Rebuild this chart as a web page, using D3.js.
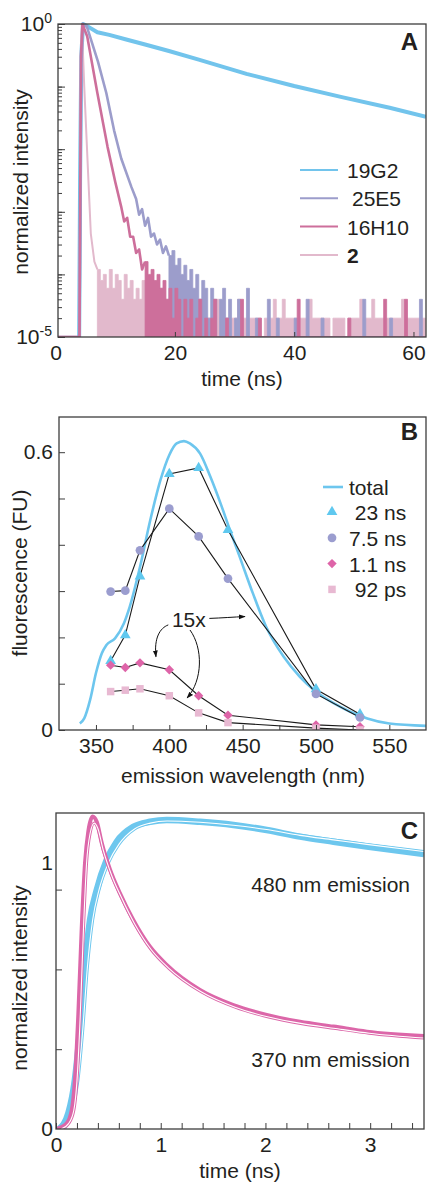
<!DOCTYPE html>
<html>
<head>
<meta charset="utf-8">
<script src="https://cdn.jsdelivr.net/npm/d3@7"></script>
<style>
  body { margin: 0; background: #fff; }
  text { font-family: "Liberation Sans", Arial, Helvetica, sans-serif; fill: #231f20; }
</style>
</head>
<body>
<svg id="chart" width="430" height="1184"></svg>
<script>
// ---------- Panel A: decays, normalized intensity (log axis) ----------
const peakCounts = 50000;   // counts at the maximum of each decay
const binNs = 0.5;          // bin width of the noisy tails

const decay19G2 = [[3.95,0],[4.1,0.003],[4.3,0.3],[4.6,1],[5.5,0.9],[7,0.74],[9,0.67],[12,0.56],[15,0.47],[19,0.37],[24,0.27],[32,0.16],[40,0.102],[48,0.068],[56,0.046],[62.1,0.033]];

const decay25E5 = [[0,0],[4.0,0],[4.3,0.2],[4.6,1],[5.2,0.93],[7.1,0.25],[8.5,0.079],[9.8,0.02],[11,0.0071],[12.7,0.0025],[13.5,0.0016],[14,0.0009],[14.5,0.0011],[15,0.0006],[15.5,0.0008],[16,0.0004],[16.5,0.00045],[17,0.0003],[17.5,0.00036],[18,0.00022],[18.5,0.00028],[19,0.0002]];
const tail25E5Start = 19;
const tail25E5 = [10,12,7,9,5,7,4,6,3,5, 2,4,3,1,3,2,0,2,3,1, 2,0,1,2,0,0,3,0,0,1, 0,0,0,2,0,0,1,0,0,0,
  0,0,1,0,0,0,2,0,0,0, 0,1,0,0,0,0,0,0,0,0, 0,0,0,0,0,2,0,0,0,0, 0,0,0,0,1,0,0,0,0,0, 0,0,0,0,2,0];

const decay16H10 = [[0,0],[4.0,0],[4.25,0.3],[4.5,1],[5.3,0.63],[7.0,0.079],[8.7,0.011],[10,0.003],[11,0.0012],[11.5,0.0007],[12,0.0008],[12.5,0.0004],[13,0.0004],[13.5,0.00022],[14,0.00025],[14.5,0.00012],[15,0.00016]];
const tail16H10Start = 15;
const tail16H10 = [8,5,6,4,5,3,4,2,3,1, 3,2,0,2,1,2,0,1,2,0, 1,0,1,2,0,0,0,1,0,0, 0,0,2,0,0,0,0,0,1,0,
  0,0,0,0,0,0,0,0,0,0, 0,2,0,0,0,0,0,0,0,0, 0,0,0,0,0,0,0,0,1,0, 0,0,0,0,0,0,0,0,0,0, 2,0,0,0,0,0,0,2,0,0, 0,0,0,0];

const decay2 = [[0,0],[4.0,0],[4.2,0.3],[4.4,1],[4.8,0.1],[5.4,0.0052],[5.9,0.00045],[6.5,0.00016],[7,0.00012]];
const tail2Start = 7;
const tail2 = [6,4,5,3,6,3,5,4,2,5, 3,4,2,3,2,4,1,3,2,1, 2,3,1,2,2,1,3,1,2,1, 1,1,0,1,2,1,1,1,1,1,
  2,1,1,1,0,1,1,2,1,1, 1,1,1,1,1,0,1,1,1,2, 1,1,2,1,1,1,1,0,1,1, 1,2,1,1,1,1,1,1,0,1,
  1,1,1,0,1,1,1,1,2,1, 1,1,2,1,1,1,0,1,1,1, 1,1,2,1,1,1,1,1,1,1];

const decadesA = [1e-5, 1e-4, 1e-3, 1e-2, 1e-1, 1];
const xTicksA = [0, 20, 40, 60];

// ---------- Panel B: decay-associated spectra ----------
const wavelengths = [360, 370, 380, 400, 420, 440, 500, 530];
const amp23ns  = [0.149, 0.205, 0.332, 0.553, 0.566, 0.432, 0.088, 0.034];
const amp7_5ns = [0.299, 0.301, 0.388, 0.478, 0.418, 0.327, 0.078, 0.027];
const amp1_1ns = [0.140, 0.135, 0.145, 0.130, 0.074, 0.032, 0.011, 0.007];   // scaled 15x
const amp92ps  = [0.083, 0.086, 0.089, 0.074, 0.037, 0.016, 0.004, 0.000];   // scaled 15x

const totalWl = [339,342,346,350,354,357,363,369,373,380,387,394,400,405,410,414,421,428,435,441,448,457,466,478,489,500,512,523,535,550,575];
const totalFU = [0.014,0.025,0.065,0.123,0.166,0.183,0.198,0.230,0.266,0.352,0.453,0.540,0.594,0.619,0.624,0.619,0.597,0.547,0.489,0.435,0.374,0.295,0.223,0.158,0.115,0.083,0.058,0.040,0.025,0.014,0.009];

const xTicksB = [350, 375, 400, 425, 450, 475, 500, 525, 550];
const yTicksB = [0, 0.1, 0.2, 0.3, 0.4, 0.5, 0.6];

// ---------- Panel C: rise/decay at two emission wavelengths ----------
const trace370 = [[0,0],[0.1,0.02],[0.15,0.07],[0.18,0.18],[0.213,0.43],[0.245,0.75],[0.277,1.0],[0.309,1.12],[0.35,1.175],[0.389,1.155],[0.437,1.075],[0.516,0.975],[0.611,0.886],[0.738,0.786],[0.898,0.685],[1.057,0.617],[1.375,0.523],[1.694,0.466],[2.012,0.429],[2.33,0.403],[2.65,0.385],[2.968,0.366],[3.514,0.35]];
const fit370 = [[0.05,0],[0.12,0.02],[0.17,0.07],[0.2,0.18],[0.232,0.43],[0.262,0.75],[0.292,1.0],[0.325,1.11],[0.365,1.15],[0.4,1.13],[0.45,1.05],[0.53,0.955],[0.625,0.87],[0.75,0.772],[0.91,0.674],[1.07,0.607],[1.39,0.515],[1.71,0.458],[2.03,0.421],[2.35,0.396],[2.67,0.378],[2.99,0.36],[3.514,0.342]];
const trace480 = [[0.03,0],[0.118,0.06],[0.18,0.184],[0.229,0.37],[0.277,0.61],[0.325,0.786],[0.389,0.898],[0.484,1.011],[0.58,1.08],[0.738,1.136],[0.898,1.155],[1.057,1.162],[1.375,1.155],[1.694,1.143],[2.012,1.124],[2.33,1.099],[2.65,1.08],[2.968,1.062],[3.514,1.034]];
const fit480 = [[0.08,0],[0.15,0.06],[0.21,0.184],[0.255,0.37],[0.3,0.61],[0.35,0.786],[0.41,0.898],[0.5,1.0],[0.6,1.07],[0.75,1.128],[0.9,1.15],[1.06,1.158],[1.375,1.153],[1.694,1.142],[2.012,1.126],[2.33,1.104],[2.65,1.087],[2.968,1.07],[3.514,1.043]];

const xTicksC = [0,0.2,0.4,0.6,0.8,1,1.2,1.4,1.6,1.8,2,2.2,2.4,2.6,2.8,3,3.2,3.4];
const yTicksC = [0.3, 0.6, 0.9];
const yLabelsC = [0, 1];

// ---------- drawing ----------
const FONT = '"Liberation Sans", Arial, Helvetica, sans-serif';
const ink = "#231f20";
const axisInk = "#3d3d3d";
const svg = d3.select("#chart");
const defs = svg.append("defs");

function frame(box) {
  svg.append("rect")
    .attr("x", box.left).attr("y", box.top)
    .attr("width", box.right - box.left).attr("height", box.bottom - box.top)
    .attr("fill", "none").attr("stroke", axisInk).attr("stroke-width", 1.3);
}
function clip(id, box) {
  defs.append("clipPath").attr("id", id).append("rect")
    .attr("x", box.left).attr("y", box.top - 3)
    .attr("width", box.right - box.left).attr("height", box.bottom - box.top + 3);
}
function tidy(g) {
  g.attr("font-family", FONT).attr("font-size", 21);
  g.select(".domain").remove();
  g.selectAll(".tick line").attr("stroke", axisInk).attr("stroke-width", 1);
  g.selectAll(".tick text").attr("fill", ink);
}
function label(x, y, txt, opts = {}) {
  const t = svg.append("text").attr("x", x).attr("y", y)
    .attr("font-size", opts.size || 21)
    .attr("text-anchor", opts.anchor || "middle")
    .text(txt);
  if (opts.bold) t.attr("font-weight", "bold");
  if (opts.rotate) t.attr("transform", `rotate(-90,${x},${y})`);
  return t;
}

// ===== Panel A =====
const boxA = {left: 58, right: 426, top: 24, bottom: 337};
const xA = d3.scaleLinear().domain([0.4, 62.1]).range([boxA.left, boxA.right]);
const yA = d3.scaleLog().domain([1e-5, 1]).range([boxA.bottom, boxA.top]).clamp(true);
clip("clipA", boxA);

const curvesA = [
  {name: "19G2",  main: decay19G2,  tailStart: 0,              tail: [],        color: "#72c4ec", width: 4},
  {name: "2",     main: decay2,     tailStart: tail2Start,     tail: tail2,     color: "#e2b9cc", width: 2},
  {name: "25E5",  main: decay25E5,  tailStart: tail25E5Start,  tail: tail25E5,  color: "#9c9dcb", width: 2.6},
  {name: "16H10", main: decay16H10, tailStart: tail16H10Start, tail: tail16H10, color: "#cd6f9b", width: 2.6}
];

const gA = svg.append("g").attr("clip-path", "url(#clipA)");
const lineA = d3.line().x(d => xA(d[0])).y(d => yA(d[1]));
const tailArea = d3.area().curve(d3.curveStepAfter)
  .x(d => xA(d[0])).y0(boxA.bottom).y1(d => yA(d[1]));

curvesA.forEach(c => {
  if (c.tail.length) {
    const pts = c.tail.map((n, i) => [c.tailStart + i * binNs, n / peakCounts]);
    pts.push([c.tailStart + c.tail.length * binNs, c.tail[c.tail.length - 1] / peakCounts]);
    gA.append("path").attr("d", tailArea(pts))
      .attr("fill", c.color).attr("stroke", c.color).attr("stroke-width", 0.8);
  }
  gA.append("path").attr("d", lineA(c.main))
    .attr("fill", "none").attr("stroke", c.color)
    .attr("stroke-width", c.width).attr("stroke-linejoin", "round");
});

svg.append("g").attr("transform", `translate(${boxA.left},0)`)
  .call(d3.axisLeft(yA).tickValues(yA.ticks()).tickSize(-4).tickFormat(""))
  .call(tidy);
svg.append("g").attr("transform", `translate(${boxA.left},0)`)
  .call(d3.axisLeft(yA).tickValues(decadesA).tickSize(-7).tickFormat(""))
  .call(tidy);

[{v: 1, exp: "0"}, {v: 1e-5, exp: "-5"}].forEach(d => {
  const t = svg.append("text").attr("x", boxA.left - 6).attr("y", yA(d.v) + 7)
    .attr("text-anchor", "end").attr("font-size", 21);
  t.append("tspan").text("10");
  t.append("tspan").attr("font-size", 14).attr("dy", -8).text(d.exp);
});

const gxA = svg.append("g").attr("transform", `translate(0,${boxA.bottom})`)
  .call(d3.axisBottom(xA).tickValues(xTicksA).tickSize(-5).tickPadding(8))
  .call(tidy);
gxA.selectAll(".tick line").filter(d => d === 0).remove();
frame(boxA);

label(242, 386, "time (ns)");
label(28, 182, "normalized intensity", {rotate: true});
label(418, 50, "A", {anchor: "end", bold: true, size: 24});

// legend A
const legendA = [
  {text: "19G2",  color: "#72c4ec", dx: 0,  bold: false},
  {text: "25E5",  color: "#9c9dcb", dx: 5,  bold: false},
  {text: "16H10", color: "#cd6f9b", dx: 0,  bold: false},
  {text: "2",     color: "#e2b9cc", dx: 0,  bold: true}
];
legendA.forEach((d, i) => {
  const y = 170 + i * 28.3;
  svg.append("line").attr("x1", 300).attr("x2", 338).attr("y1", y).attr("y2", y)
    .attr("stroke", d.color).attr("stroke-width", 2);
  label(347 + d.dx, y + 8, d.text, {anchor: "start", bold: d.bold});
});

// ===== Panel B =====
const boxB = {left: 59, right: 426, top: 417, bottom: 730};
const xB = d3.scaleLinear().domain([324.8, 575]).range([boxB.left, boxB.right]);
const yB = d3.scaleLinear().domain([0, 0.676]).range([boxB.bottom, boxB.top]);
clip("clipB", boxB);

const gB = svg.append("g").attr("clip-path", "url(#clipB)");
gB.append("path")
  .datum(totalWl.map((w, i) => [w, totalFU[i]]))
  .attr("d", d3.line().curve(d3.curveMonotoneX).x(d => xB(d[0])).y(d => yB(d[1])))
  .attr("fill", "none").attr("stroke", "#6dc6ee").attr("stroke-width", 2.6);

const seriesB = [
  {label: " 23 ns", values: amp23ns,  type: d3.symbolTriangle, size: 50, rot: 0,  color: "#5fc8ef"},
  {label: "7.5 ns", values: amp7_5ns, type: d3.symbolCircle,   size: 60, rot: 0,  color: "#9b9dcf"},
  {label: "1.1 ns", values: amp1_1ns, type: d3.symbolSquare,   size: 44, rot: 45, color: "#de64a8"},
  {label: " 92 ps", values: amp92ps,  type: d3.symbolSquare,   size: 56, rot: 0,  color: "#e8b9d2"}
];
const lineB = d3.line().x(d => xB(d[0])).y(d => yB(d[1]));
seriesB.forEach(s => {
  gB.append("path").datum(wavelengths.map((w, i) => [w, s.values[i]]))
    .attr("d", lineB).attr("fill", "none").attr("stroke", "#1a1a1a").attr("stroke-width", 1.1);
});
seriesB.forEach(s => {
  gB.selectAll(null).data(wavelengths.map((w, i) => [w, s.values[i]])).enter()
    .append("path")
    .attr("d", d3.symbol().type(s.type).size(s.size))
    .attr("transform", d => `translate(${xB(d[0])},${yB(d[1])}) rotate(${s.rot})`)
    .attr("fill", s.color);
});

// "15x" annotation with arrows (data units)
defs.append("marker").attr("id", "arrowB")
  .attr("viewBox", "0 0 10 10").attr("refX", 9).attr("refY", 5)
  .attr("markerWidth", 7).attr("markerHeight", 7).attr("markerUnits", "userSpaceOnUse")
  .attr("orient", "auto")
  .append("path").attr("d", "M0,1.5 L10,5 L0,8.5 Z").attr("fill", "#111");

const arrowsB = [
  [[427.3, 0.241], [436, 0.242], [444, 0.244], [451.6, 0.245]],
  [[399.3, 0.227], [393.6, 0.220], [389.5, 0.199], [390.9, 0.158]],
  [[414.1, 0.216], [423.0, 0.177], [423.0, 0.108], [412.1, 0.069]]
];
arrowsB.forEach(a => {
  const p = d3.path();
  p.moveTo(xB(a[0][0]), yB(a[0][1]));
  p.bezierCurveTo(xB(a[1][0]), yB(a[1][1]), xB(a[2][0]), yB(a[2][1]), xB(a[3][0]), yB(a[3][1]));
  svg.append("path").attr("d", p.toString()).attr("fill", "none")
    .attr("stroke", "#111").attr("stroke-width", 1).attr("marker-end", "url(#arrowB)");
});
label(xB(401.8), yB(0.223), "15x", {anchor: "start"});

svg.append("g").attr("transform", `translate(0,${boxB.bottom})`)
  .call(d3.axisBottom(xB).tickValues(xTicksB).tickSize(-5).tickPadding(8)
    .tickFormat(d => d % 50 === 0 ? d : ""))
  .call(tidy);
svg.append("g").attr("transform", `translate(${boxB.left},0)`)
  .call(d3.axisLeft(yB).tickValues(yTicksB).tickSize(-6).tickPadding(6)
    .tickFormat(d => d === 0 ? "0" : d === 0.6 ? "0.6" : ""))
  .call(tidy);
frame(boxB);

label(243, 783, "emission wavelength (nm)");
label(27, 573, "fluorescence (FU)", {rotate: true});
label(418, 440, "B", {anchor: "end", bold: true, size: 24});

// legend B
svg.append("line").attr("x1", 323).attr("x2", 343).attr("y1", 487).attr("y2", 487)
  .attr("stroke", "#6dc6ee").attr("stroke-width", 2.6);
label(349, 495, "total", {anchor: "start"});
seriesB.forEach((s, i) => {
  const y = 512 + i * 25.8;
  svg.append("path").attr("d", d3.symbol().type(s.type).size(s.size))
    .attr("transform", `translate(332,${y}) rotate(${s.rot})`).attr("fill", s.color);
  label(349, y + 8, s.label, {anchor: "start"}).attr("xml:space", "preserve");
});

// ===== Panel C =====
const boxC = {left: 56, right: 424, top: 813, bottom: 1129};
const xC = d3.scaleLinear().domain([0, 3.514]).range([boxC.left, boxC.right]);
const yC = d3.scaleLinear().domain([0, 1.188]).range([boxC.bottom, boxC.top]);
clip("clipC", boxC);

const gC = svg.append("g").attr("clip-path", "url(#clipC)");
const lineC = d3.line().curve(d3.curveMonotoneX).x(d => xC(d[0])).y(d => yC(d[1]));
const tracesC = [
  {data: trace480, fit: fit480, color: "#6dc7ee", width: 6.5},
  {data: trace370, fit: fit370, color: "#dc67a9", width: 4}
];
tracesC.forEach(t => {
  gC.append("path").attr("d", lineC(t.data)).attr("fill", "none")
    .attr("stroke", t.color).attr("stroke-width", t.width).attr("stroke-linejoin", "round");
  gC.append("path").attr("d", lineC(t.fit)).attr("fill", "none")
    .attr("stroke", t.color).attr("stroke-width", 3);
  gC.append("path").attr("d", lineC(t.fit)).attr("fill", "none")
    .attr("stroke", "#fff").attr("stroke-width", 1.1);
});

svg.append("g").attr("transform", `translate(0,${boxC.bottom})`)
  .call(d3.axisBottom(xC).tickValues(xTicksC).tickSize(-6).tickPadding(8)
    .tickFormat(d => Number.isInteger(d) ? d : ""))
  .call(tidy);
svg.append("g").attr("transform", `translate(${boxC.left},0)`)
  .call(d3.axisLeft(yC).tickValues(yTicksC).tickSize(-6).tickFormat(""))
  .call(tidy);
svg.append("g").attr("transform", `translate(${boxC.left},0)`)
  .call(d3.axisLeft(yC).tickValues(yLabelsC).tickSize(0).tickPadding(3).tickFormat(d3.format("d")))
  .call(tidy);
frame(boxC);

label(xC(3.381), yC(0.892), "480 nm emission", {anchor: "end"});
label(xC(3.381), yC(0.234), "370 nm emission", {anchor: "end"});
label(240, 1178, "time (ns)");
label(27, 978, "normalized intensity", {rotate: true});
label(418, 839, "C", {anchor: "end", bold: true, size: 24});
</script>
</body>
</html>
